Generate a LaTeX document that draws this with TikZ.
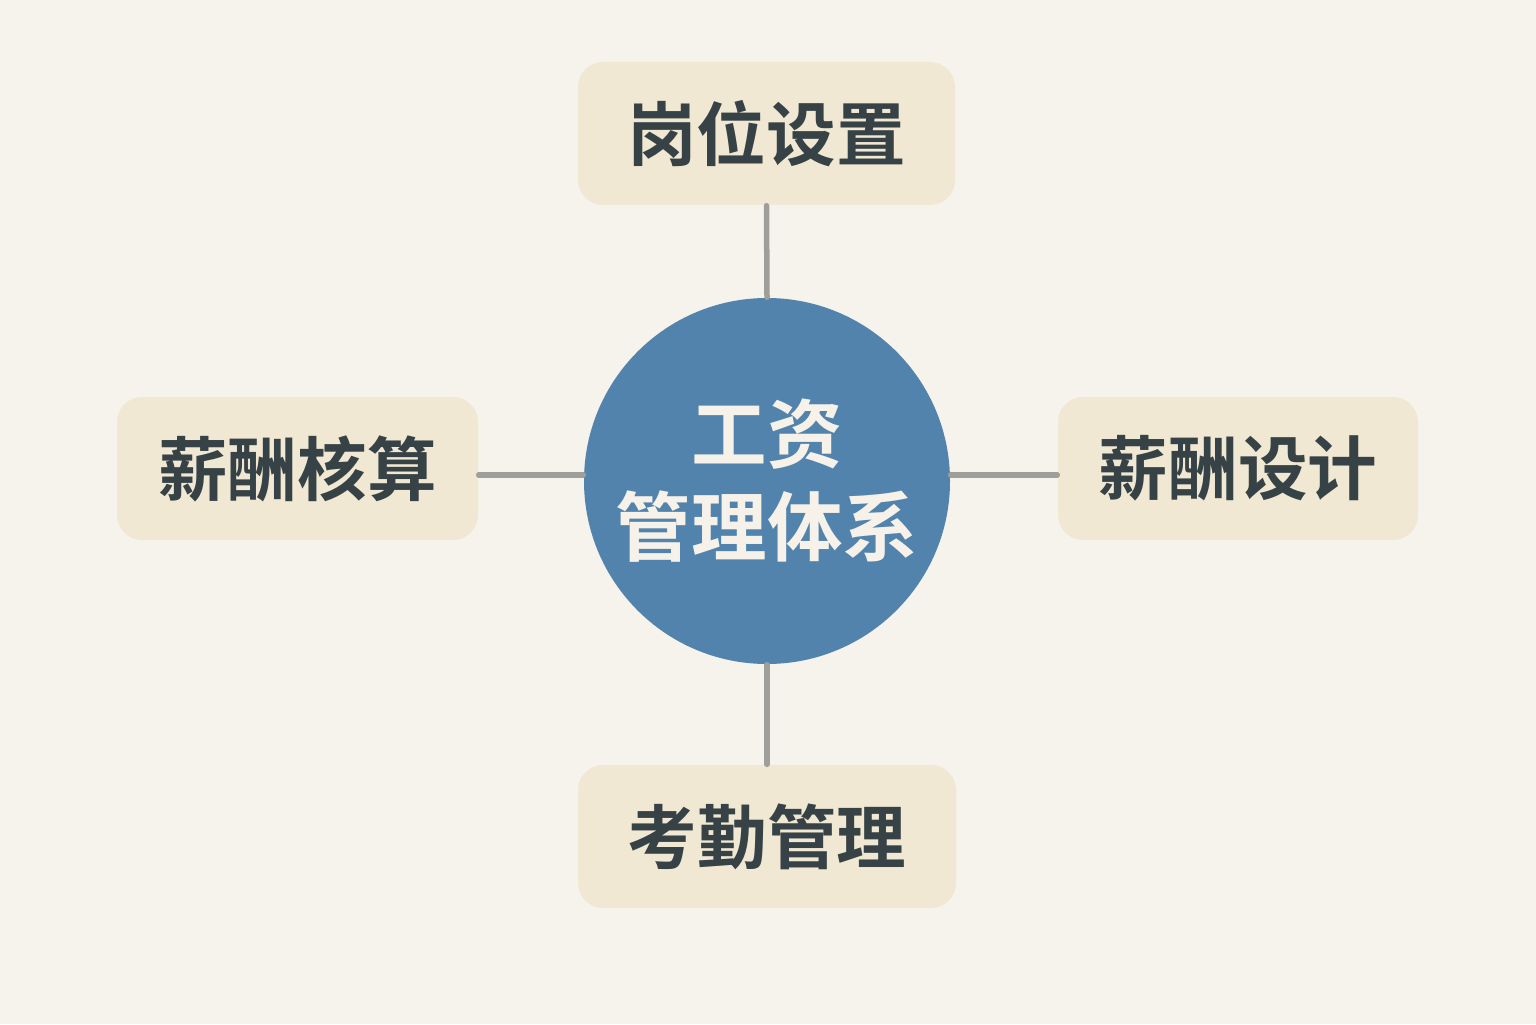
\documentclass[tikz,border=0pt]{standalone}
\usepackage{fontspec}
\newfontfamily\cjk{Noto Sans CJK SC}[BoldFont={* Bold}]
\usepackage{tikz}
\usetikzlibrary{positioning}
\definecolor{bgpaper}{HTML}{F5F3EC}
\definecolor{boxfill}{HTML}{F1E8D3}
\definecolor{hubblue}{HTML}{5283AD}
\definecolor{inkdark}{HTML}{364246}
\definecolor{linkgray}{HTML}{9E9E9A}
\definecolor{hubtext}{HTML}{F6F2EA}
\tikzset{
  part/.style={rectangle, rounded corners=0.25cm, fill=boxfill, minimum height=1.43cm,
    text=inkdark, font=\cjk\bfseries\fontsize{19.8}{24}\selectfont},
  hub/.style={circle, fill=hubblue, minimum size=3.66cm, inner sep=0pt, align=center,
    text=hubtext, font=\cjk\bfseries\fontsize{21.5}{26.5}\selectfont},
  link/.style={draw=linkgray, line width=0.055cm, line cap=round}
}

\begin{document}
\begin{tikzpicture}
\fill[bgpaper] (0,0) rectangle (15.36,10.24);
\useasboundingbox (0,0) rectangle (15.36,10.24);
\node[hub] (pay) at (7.67,5.43) {工资\\管理体系};
\node[part, minimum width=3.77cm] (post) at (7.665,8.905) {岗位设置};
\node[part, minimum width=3.61cm] (calc) at (2.975,5.555) {薪酬核算};
\node[part, minimum width=3.60cm] (design) at (12.38,5.555) {薪酬设计};
\node[part, minimum width=3.78cm] (attend) at (7.67,1.875) {考勤管理};
% spokes
\draw[link] (post.south) -- (pay.north);
\draw[link] (attend.north) -- (pay.south);
\draw[link] ([yshift=-0.065cm]calc.east) -- ([yshift=-0.065cm]calc.east -| pay.west);
\draw[link] ([yshift=-0.065cm]design.west) -- ([yshift=-0.065cm]design.west -| pay.east);
\end{tikzpicture}
\end{document}
